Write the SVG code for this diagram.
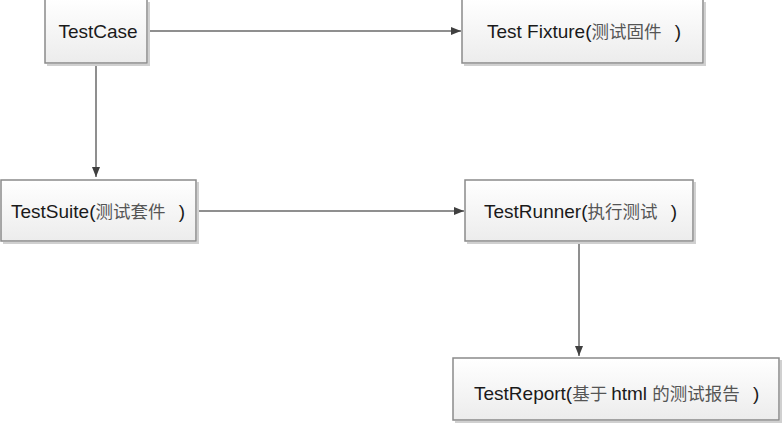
<svg xmlns="http://www.w3.org/2000/svg" width="783" height="426" viewBox="0 0 783 426">
<defs>
<linearGradient id="g" x1="0" y1="0" x2="0" y2="1">
<stop offset="0" stop-color="#ffffff"/>
<stop offset="1" stop-color="#ececec"/>
</linearGradient>
<marker id="ah" markerWidth="10" markerHeight="8" refX="10" refY="4" orient="auto" markerUnits="userSpaceOnUse">
<path d="M0,0 L10,4 L0,8 Z" fill="#404040"/>
</marker>
</defs>
<style>
.box{fill:url(#g);stroke:#8a8a8a;stroke-width:1.5}
.sh{fill:none;stroke:#d0d0d0;stroke-width:2}
.t{font-family:"Liberation Sans","Noto Sans CJK SC",sans-serif;font-size:19px;fill:#1a1a1a}
.c{font-family:"Noto Sans CJK SC",sans-serif;font-size:17.5px;fill:#555555}
.ln{stroke:#6a6a6a;stroke-width:1.5;fill:none;marker-end:url(#ah)}
</style>
<rect width="783" height="426" fill="#ffffff"/>
<g id="connectors">
<line class="ln" x1="148" y1="31" x2="461" y2="31"/>
<line class="ln" x1="96" y1="64" x2="96" y2="177"/>
<line class="ln" x1="197" y1="211" x2="464" y2="211"/>
<line class="ln" x1="579" y1="242" x2="579" y2="356"/>
</g>
<g id="testcase">
<path class="sh" d="M149,2 V65 H47"/>
<rect class="box" x="45" y="-1" width="102" height="64"/>
<text class="t" x="98" y="38" text-anchor="middle">TestCase</text>
</g>
<g id="fixture">
<path class="sh" d="M705,2 V65 H464"/>
<rect class="box" x="462" y="-1" width="241" height="64"/>
<text x="487" y="38"><tspan class="t">Test Fixture(</tspan><tspan class="c">测试固件</tspan><tspan class="t" dx="8"> )</tspan></text>
</g>
<g id="testsuite">
<path class="sh" d="M198,182 V243 H3"/>
<rect class="box" x="1" y="180" width="195" height="61"/>
<text x="11" y="218"><tspan class="t">TestSuite(</tspan><tspan class="c">测试套件</tspan><tspan class="t" dx="8"> )</tspan></text>
</g>
<g id="testrunner">
<path class="sh" d="M695,182 V243 H467"/>
<rect class="box" x="465" y="180" width="228" height="61"/>
<text x="484" y="218"><tspan class="t">TestRunner(</tspan><tspan class="c">执行测试</tspan><tspan class="t" dx="8"> )</tspan></text>
</g>
<g id="testreport">
<path class="sh" d="M781,360 V422 H455"/>
<rect class="box" x="453" y="358" width="326" height="62"/>
<text x="474" y="400"><tspan class="t">TestReport(</tspan><tspan class="c">基于 </tspan><tspan class="t">html </tspan><tspan class="c">的测试报告</tspan><tspan class="t" dx="8"> )</tspan></text>
</g>
</svg>
